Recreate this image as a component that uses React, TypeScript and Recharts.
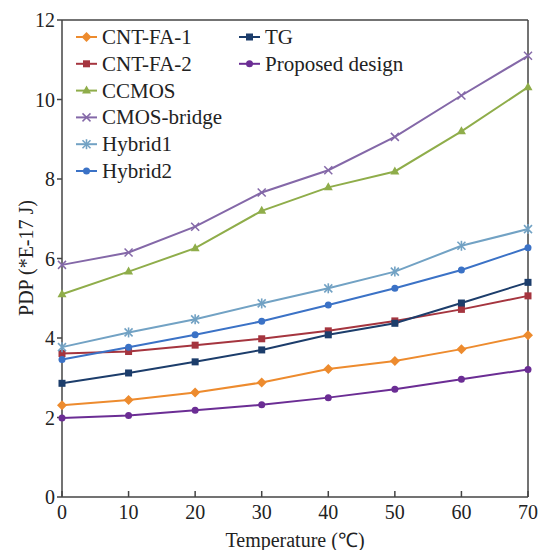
import { LineChart, Line, XAxis, YAxis, ReferenceLine } from 'recharts';

const temperatures = [0, 10, 20, 30, 40, 50, 60, 70];
const yTicks = [0, 2, 4, 6, 8, 10, 12];

const cntFa1 = [2.31, 2.44, 2.63, 2.88, 3.22, 3.42, 3.72, 4.07];
const cntFa2 = [3.61, 3.66, 3.82, 3.98, 4.18, 4.43, 4.72, 5.06];
const ccmos = [5.1, 5.67, 6.26, 7.2, 7.79, 8.19, 9.2, 10.31];
const cmosBridge = [5.84, 6.15, 6.8, 7.66, 8.22, 9.06, 10.1, 11.1];
const hybrid1 = [3.77, 4.14, 4.47, 4.87, 5.25, 5.67, 6.32, 6.74];
const hybrid2 = [3.46, 3.77, 4.08, 4.42, 4.83, 5.25, 5.71, 6.27];
const tg = [2.86, 3.12, 3.4, 3.7, 4.08, 4.37, 4.88, 5.4];
const proposed = [1.99, 2.05, 2.18, 2.32, 2.5, 2.71, 2.96, 3.21];

type Shape = 'diamond' | 'square' | 'triangle' | 'x' | 'star' | 'circle';

const series: { key: string; name: string; color: string; shape: Shape; values: number[] }[] = [
  { key: 'cntFa1', name: 'CNT-FA-1', color: '#ed8b2e', shape: 'diamond', values: cntFa1 },
  { key: 'cntFa2', name: 'CNT-FA-2', color: '#a5353f', shape: 'square', values: cntFa2 },
  { key: 'ccmos', name: 'CCMOS', color: '#8fad4a', shape: 'triangle', values: ccmos },
  { key: 'cmosBridge', name: 'CMOS-bridge', color: '#8468a8', shape: 'x', values: cmosBridge },
  { key: 'hybrid1', name: 'Hybrid1', color: '#72a2c4', shape: 'star', values: hybrid1 },
  { key: 'hybrid2', name: 'Hybrid2', color: '#3b72c6', shape: 'circle', values: hybrid2 },
  { key: 'tg', name: 'TG', color: '#1c3d6b', shape: 'square', values: tg },
  { key: 'proposed', name: 'Proposed design', color: '#6b2d94', shape: 'circle', values: proposed },
];

const data = temperatures.map((t, i) => {
  const row: Record<string, number> = { t };
  series.forEach(s => { row[s.key] = s.values[i]; });
  return row;
});

const FONT = '"Liberation Serif", "Times New Roman", serif';

function Marker({ cx, cy, shape, color }: { cx: number; cy: number; shape: Shape; color: string }) {
  if (cx == null || cy == null) return null;
  switch (shape) {
    case 'diamond':
      return <polygon points={`${cx},${cy - 5} ${cx + 5},${cy} ${cx},${cy + 5} ${cx - 5},${cy}`} fill={color} />;
    case 'square':
      return <rect x={cx - 3.5} y={cy - 3.5} width={7} height={7} fill={color} />;
    case 'triangle':
      return <polygon points={`${cx},${cy - 5} ${cx + 4.5},${cy + 3} ${cx - 4.5},${cy + 3}`} fill={color} />;
    case 'x':
      return (
        <g stroke={color} strokeWidth={1.5}>
          <line x1={cx - 4} y1={cy - 4} x2={cx + 4} y2={cy + 4} />
          <line x1={cx - 4} y1={cy + 4} x2={cx + 4} y2={cy - 4} />
        </g>
      );
    case 'star':
      return (
        <g stroke={color} strokeWidth={1.6}>
          <line x1={cx - 4} y1={cy - 4} x2={cx + 4} y2={cy + 4} />
          <line x1={cx - 4} y1={cy + 4} x2={cx + 4} y2={cy - 4} />
          <line x1={cx} y1={cy - 5} x2={cx} y2={cy + 5} />
        </g>
      );
    default:
      return <circle cx={cx} cy={cy} r={3.5} fill={color} />;
  }
}

function LegendOverlay() {
  const col1 = series.slice(0, 6);
  const col2 = series.slice(6);
  const rowY = (i: number) => 37 + i * 26.8;
  const item = (s: typeof series[number], i: number, x0: number) => (
    <g key={s.key}>
      <line x1={x0} y1={rowY(i)} x2={x0 + 21} y2={rowY(i)} stroke={s.color} strokeWidth={2} />
      <Marker cx={x0 + 10.5} cy={rowY(i)} shape={s.shape} color={s.color} />
      <text x={x0 + 26} y={rowY(i)} dominantBaseline="central" fontFamily={FONT} fontSize={21} fill="#222">
        {s.name}
      </text>
    </g>
  );
  return (
    <svg width={545} height={200} style={{ position: 'absolute', left: 0, top: 0, pointerEvents: 'none' }}>
      {col1.map((s, i) => item(s, i, 76))}
      {col2.map((s, i) => item(s, i, 239))}
    </svg>
  );
}

export default function App() {
  return (
    <div style={{ position: 'absolute', left: 0, top: 0, width: 545, height: 550, background: '#fff' }}>
      <LineChart width={545} height={550} data={data} margin={{ top: 20, right: 17, left: 0, bottom: 23 }}>
        <XAxis
          dataKey="t"
          type="number"
          domain={[0, 70]}
          ticks={temperatures}
          height={30}
          tickSize={-6}
          tickMargin={14}
          stroke="#444"
          strokeWidth={1.5}
          tick={{ fontFamily: FONT, fontSize: 20, fill: '#222' }}
          label={{ value: 'Temperature (℃)', position: 'insideBottom', offset: -20, fontFamily: FONT, fontSize: 20, fill: '#222' }}
        />
        <YAxis
          type="number"
          domain={[0, 12]}
          ticks={yTicks}
          width={62}
          tickSize={5}
          tickMargin={2}
          stroke="#444"
          strokeWidth={1.5}
          tick={{ fontFamily: FONT, fontSize: 20, fill: '#222' }}
          label={{
            content: () => (
              <text x={26} y={258} transform="rotate(-90 26 258)" textAnchor="middle" dominantBaseline="central" fontFamily={FONT} fontSize={20} fill="#222">
                PDP (*E-17 J)
              </text>
            ),
          }}
        />
        <ReferenceLine y={12} stroke="#444" strokeWidth={1.5} />
        <ReferenceLine x={70} stroke="#444" strokeWidth={1.5} />
        {series.map(s => (
          <Line
            key={s.key}
            dataKey={s.key}
            name={s.name}
            stroke={s.color}
            strokeWidth={2}
            isAnimationActive={false}
            dot={(p: any) => <Marker key={`${s.key}-${p.index}`} cx={p.cx} cy={p.cy} shape={s.shape} color={s.color} />}
            activeDot={false}
          />
        ))}
      </LineChart>
      <LegendOverlay />
    </div>
  );
}
